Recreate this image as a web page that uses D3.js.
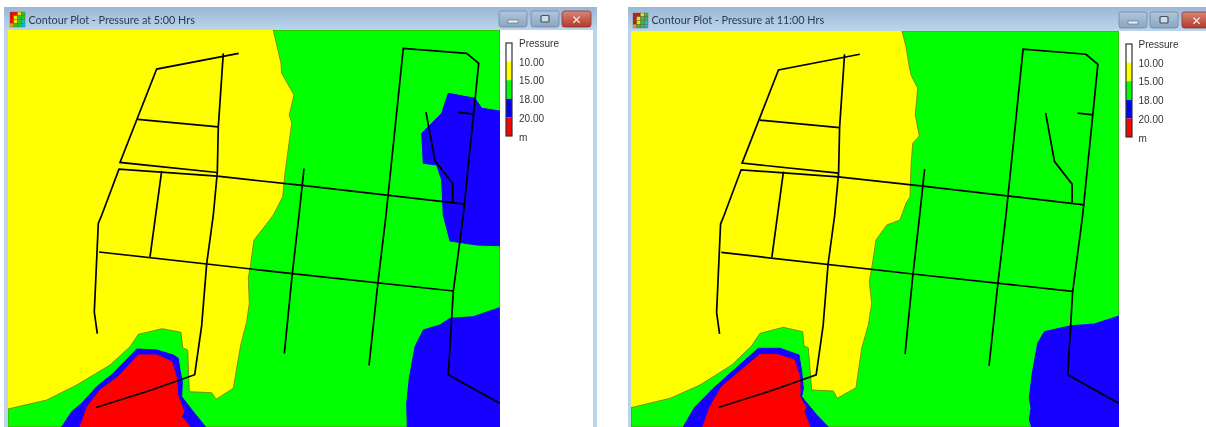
<!DOCTYPE html>
<html><head><meta charset="utf-8">
<script src="https://cdn.jsdelivr.net/npm/d3@7"></script>
<style>html,body{margin:0;padding:0;background:#fff;overflow:hidden}svg{display:block}</style>
</head><body><svg id="c" width="1206" height="427"></svg>
<script>
// ---- data ----
const titles = ["Contour Plot - Pressure at 5:00 Hrs", "Contour Plot - Pressure at 11:00 Hrs"];
const legendTitle = "Pressure";
const legendLabels = ["10.00", "15.00", "18.00", "20.00"];
const legendUnit = "m";
const legendColors = ["#ffffff", "#ffff00", "#00ff00", "#0000ff", "#ff0000"];
const pipes = [
 [[238.7,53.3],[156.7,69],[120,162.3],[217.3,172.3]],
 [[223.3,53.3],[218.3,126.7],[217.3,172.3],[213.3,215],[206.7,263.3],[201.7,325],[194.7,374.3],[150,390],[96,407]],
 [[137.7,119.3],[218.3,126.7]],
 [[97.3,333.3],[94.3,311.7],[98.3,223.3],[101.7,215],[119,169],[217,176],[300,185],[465,204]],
 [[161.7,170.7],[150,256.7]],
 [[99,251.7],[292.3,273.3],[453.3,290.7]],
 [[304,168.3],[299,215],[292.3,273.3],[284.3,353.3]],
 [[369,365],[378,281.7],[386,215],[403.3,48.3],[466.7,53.3],[478.7,63.3],[463.3,215],[453.3,290.7],[448.3,374.3],[500,403]],
 [[458.3,112.3],[474,114]],
 [[426,112],[435,160.7],[452.7,183.3],[452.7,201.7]]
];
const greenA = [[273.3,30],[281,63.3],[281.7,73.3],[294,95],[289.3,115],[291.7,123.3],[285,173.3],[282.7,196.7],[273.3,215],[268.3,221.7],[254,240],[250,268.3],[248.3,278.3],[249.3,303.3],[246.7,321.7],[240.7,345],[233.3,388.3],[216,399.3],[211.7,392.7],[189.3,391.7],[187.7,350],[182.7,347.7],[181,332.3],[162.3,328.7],[138.3,334.3],[130,346.7],[110,365],[76.7,385],[46.7,400],[8,409],[8,427],[500,427],[500,30]];
const blueSouthA = [[61.7,427],[71.7,411.7],[81.7,403.3],[96.7,386.7],[113.3,373.3],[136.7,349],[156.7,350],[173.3,355],[178.3,358.3],[180,370],[182.3,381.7],[181.7,396.7],[193.3,411.7],[205.7,427]];
const redA = [[80,427],[87.3,406.7],[100,390],[118.3,376.7],[138.3,355],[156.7,355],[171.7,361.7],[176.7,378.3],[177.7,395],[184,411.7],[181.7,416.7],[190,427]];
const blueNorthA = [[448.3,93.3],[475,98.3],[481.7,108.3],[500,111],[500,245.7],[476.7,245],[450,241],[443.3,215],[441.7,180],[436.7,165],[423.3,163.3],[421.7,133.3],[441.7,113.3]];
const blueEastA = [[499.3,307.7],[473.3,316.7],[450,318.3],[440,325],[423.3,330],[415,346.7],[409.3,378.3],[406.7,403.3],[407.3,427],[500,427]];
const greenB = [[902,31],[906,46.7],[909.3,66.7],[911,75],[917.7,88.3],[915.3,115],[919.3,136],[912.7,143.3],[911,166.7],[910,196.7],[906,203.3],[900,220],[886.7,225],[876,240],[871.7,268.3],[869.3,281.7],[871.7,303.3],[868.3,325],[861.7,348.3],[856,387.7],[837.3,398.3],[833.3,391],[811.7,390],[808.3,347.7],[804,345.7],[802.7,331.7],[783.3,327.3],[760,333.3],[751.7,345.7],[731.7,365],[700,385],[670,398.3],[631,407.7],[631,427],[1119,427],[1119,31]];
const blueSouthB = [[683.3,427],[694.3,407.7],[713.3,388.3],[758.3,348.3],[780,348.3],[799,355],[801.7,371.7],[803.3,388.3],[801.7,396.7],[816.7,415],[828.3,427]];
const redB = [[702.7,427],[710,406.7],[721.7,386.7],[760,354.3],[776.7,354.3],[794.3,360],[800,378.3],[800,396.7],[806,408.3],[804,411.7],[810,427]];
const blueEastB = [[1119,316],[1094.3,324],[1071,325.7],[1044.3,331.7],[1037.7,343.3],[1032,375],[1029.3,398.3],[1031,408.3],[1029.3,420],[1031.7,427],[1119,427]];
const iconColors = [["#e01010","#e01010","#f0e000","#30c030"],["#e01010","#f0e000","#30c030","#30c030"],["#e01010","#f0e000","#30c030","#10c0d0"],["#f0a000","#30c030","#30c030","#10c0d0"]];

const panels = [
 {title:titles[0], win:[4,597], plot:[8,500], top:30, bar:7, layers:[[greenA,"#00ff00"],[blueNorthA,"#1400ff"],[blueEastA,"#1400ff"],[blueSouthA,"#1400ff"],[redA,"#ff0000"]], domain:[8,500], icon:10, text:28.5, btn:[499,531,562], btnY:11, legX:506, legText:519, legY:43},
 {title:titles[1], win:[628,1206], plot:[631,1119], top:31, bar:7, layers:[[greenB,"#00ff00"],[blueEastB,"#1400ff"],[blueSouthB,"#1400ff"],[redB,"#ff0000"]], domain:[631,1119], icon:633, text:651.5, btn:[1119,1150,1182], btnY:12, legX:1126, legText:1138.5, legY:44}
];

const svg = d3.select("#c");
const defs = svg.append("defs");
defs.append("filter").attr("id","soft").attr("x","-2%").attr("y","-2%").attr("width","104%").attr("height","104%")
  .append("feGaussianBlur").attr("stdDeviation",0.4);
const grad = defs.append("linearGradient").attr("id","tb").attr("x1",0).attr("y1",0).attr("x2",0).attr("y2",1);
grad.append("stop").attr("offset",0).attr("stop-color","#9ab7d6");
grad.append("stop").attr("offset",1).attr("stop-color","#bcd5ec");
const btnG = defs.append("linearGradient").attr("id","bt").attr("x1",0).attr("y1",0).attr("x2",0).attr("y2",1);
btnG.append("stop").attr("offset",0).attr("stop-color","#b2c6da");
btnG.append("stop").attr("offset",1).attr("stop-color","#8aa5c0");
const clG = defs.append("linearGradient").attr("id","cl").attr("x1",0).attr("y1",0).attr("x2",0).attr("y2",1);
clG.append("stop").attr("offset",0).attr("stop-color","#d98478");
clG.append("stop").attr("offset",1).attr("stop-color","#b5392c");

const root = svg.append("g").attr("filter","url(#soft)");
const F = "Lato,'Open Sans',sans-serif";

panels.forEach((p,pi)=>{
  const g = root.append("g");
  g.append("rect").attr("x",p.win[0]).attr("y",p.bar).attr("width",p.win[1]-p.win[0]).attr("height",427-p.bar).attr("fill","#b9d4eb");
  g.append("rect").attr("x",p.win[0]).attr("y",p.bar).attr("width",p.win[1]-p.win[0]).attr("height",p.top-p.bar).attr("fill","url(#tb)");
  const panelRight = pi===0 ? 593 : 1206;
  g.append("rect").attr("x",p.plot[1]).attr("y",p.top).attr("width",panelRight-p.plot[1]).attr("height",427-p.top).attr("fill","#fff");

  const clipId="clip"+pi;
  defs.append("clipPath").attr("id",clipId).append("rect").attr("x",p.plot[0]).attr("y",p.top).attr("width",p.plot[1]-p.plot[0]).attr("height",427-p.top);
  const map = g.append("g").attr("clip-path",`url(#${clipId})`);
  map.append("rect").attr("x",p.plot[0]).attr("y",p.top).attr("width",p.plot[1]-p.plot[0]).attr("height",427-p.top).attr("fill","#ffff00");
  const cx = d3.scaleLinear().domain(p.domain).range(p.plot);
  const cy = d3.scaleLinear().domain([0,427]).range([0,427]);
  const area = d3.line().x(d=>cx(d[0])).y(d=>cy(d[1]));
  p.layers.forEach(([pts,col],i)=>{
    map.append("path").attr("d",area(pts)+"Z").attr("fill",col)
      .attr("stroke", i===0 ? "#6e7a00" : col).attr("stroke-width", i===0 ? 0.8 : 1).attr("stroke-linejoin","round");
  });
  const nx = d3.scaleLinear().domain([8,500]).range(p.plot);
  const ny = d3.scaleLinear().domain([30,427]).range([p.top,427.5]);
  const pipeLine = d3.line().x(d=>nx(d[0])).y(d=>ny(d[1]));
  map.selectAll("path.pipe").data(pipes).join("path").attr("class","pipe")
    .attr("d",pipeLine).attr("fill","none").attr("stroke","#000").attr("stroke-width",1.7);

  const ib = d3.scaleBand().domain(d3.range(4)).range([0,15]);
  const icon = g.append("g").attr("transform",`translate(${p.icon},${p.btnY+1})`);
  iconColors.forEach((row,r)=>row.forEach((c,k)=>{
    icon.append("rect").attr("x",ib(k)).attr("y",ib(r)).attr("width",ib.bandwidth()).attr("height",ib.bandwidth()).attr("fill",c).attr("stroke","#5a4a30").attr("stroke-width",0.3);
  }));
  g.append("text").attr("x",p.text).attr("y",p.bar+17).attr("font-family",F).attr("font-size",10.8).attr("fill","#2b3b4d").text(p.title);
  p.btn.forEach((bx,i)=>{
    const w = i===2 ? 29 : 28;
    g.append("rect").attr("x",bx).attr("y",p.btnY).attr("width",w).attr("height",16).attr("rx",2.5)
      .attr("fill", i===2 ? "url(#cl)" : "url(#bt)").attr("stroke", i===2 ? "#7c3a34" : "#6f89a6").attr("stroke-width",0.8);
    if(i===0) g.append("rect").attr("x",bx+9).attr("y",p.btnY+9).attr("width",10).attr("height",3).attr("fill","#e8edf2").attr("stroke","#4f6880").attr("stroke-width",0.6);
    if(i===1) g.append("rect").attr("x",bx+10).attr("y",p.btnY+4.5).attr("width",8).attr("height",6.5).attr("rx",1).attr("fill","#cfdbe6").attr("stroke","#3f5266").attr("stroke-width",1.2);
    if(i===2) g.append("text").attr("x",bx+w/2).attr("y",p.btnY+12.5).attr("text-anchor","middle").attr("font-family","'DejaVu Sans',sans-serif").attr("font-weight","bold").attr("font-size",12).attr("fill","#f4eeee").text("\u2715");
  });
  const ly = d3.scaleBand().domain(d3.range(legendColors.length)).range([p.legY,p.legY+93]);
  g.selectAll("rect.leg").data(legendColors).join("rect").attr("class","leg")
    .attr("x",p.legX).attr("y",(d,i)=>ly(i)).attr("width",6).attr("height",ly.bandwidth()).attr("fill",d=>d);
  g.append("rect").attr("x",p.legX).attr("y",p.legY).attr("width",6).attr("height",93).attr("fill","none").attr("stroke","#333").attr("stroke-width",1.2);
  const labels = [legendTitle,...legendLabels,legendUnit];
  g.selectAll("text.lab").data(labels).join("text").attr("class","lab")
    .attr("x",p.legText).attr("y",(d,i)=>p.legY+(i*93.5/5)+4)
    .attr("font-family","'Liberation Sans',Arial,sans-serif").attr("font-size",10).attr("fill","#333").text(d=>d);
});
</script></body></html>
